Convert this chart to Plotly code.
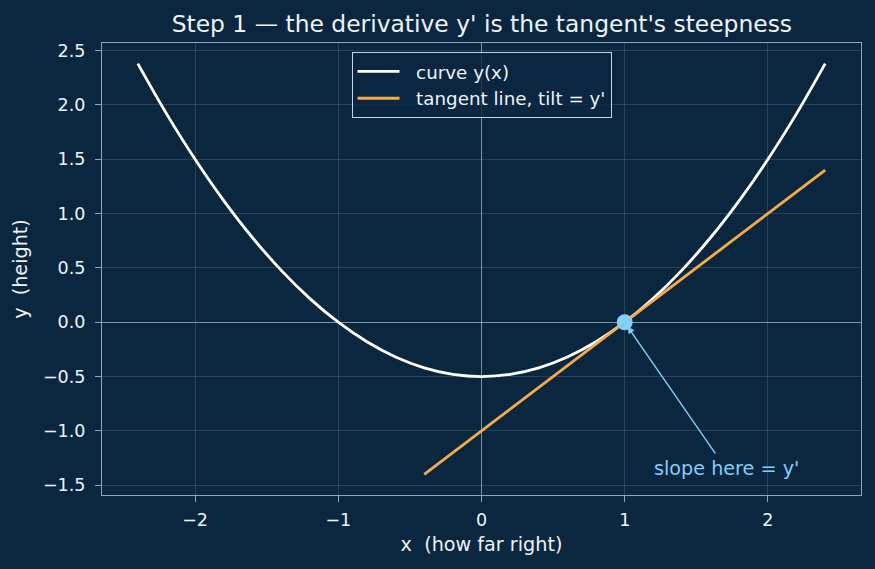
import plotly.graph_objects as go

# Curve y(x), values
curve_x = [-2.4, -2.2, -2.0, -1.8, -1.6, -1.4, -1.2, -1.0, -0.8, -0.6, -0.4, -0.2, 0.0,
           0.2, 0.4, 0.6, 0.8, 1.0, 1.2, 1.4, 1.6, 1.8, 2.0, 2.2, 2.4]
curve_y = [2.38, 1.92, 1.5, 1.12, 0.78, 0.48, 0.22, 0.0, -0.18, -0.32, -0.42, -0.48, -0.5,
           -0.48, -0.42, -0.32, -0.18, 0.0, 0.22, 0.48, 0.78, 1.12, 1.5, 1.92, 2.38]

# Tangent line at the touch point
tangent_x = [-0.4, 2.4]
tangent_y = [-1.4, 1.4]

point_x = [1.0]
point_y = [0.0]

x_ticks = [-2, -1, 0, 1, 2]
y_ticks = [-1.5, -1.0, -0.5, 0.0, 0.5, 1.0, 1.5, 2.0, 2.5]

BG = "#0b2740"
TXT = "#eef3f8"
SPINE = "#8ea6bd"
FONT = "DejaVu Sans"
NB = "\u00a0"

fig = go.Figure()
fig.add_trace(go.Scatter(x=curve_x, y=curve_y, mode="lines", name=NB + NB + "curve y(x)",
                         line=dict(color="#ffffff", width=2.8, shape="spline")))
fig.add_trace(go.Scatter(x=tangent_x, y=tangent_y, mode="lines",
                         name=NB + NB + "tangent line, tilt = y'",
                         line=dict(color="#f5ac48", width=2.8)))
fig.add_trace(go.Scatter(x=point_x, y=point_y, mode="markers", showlegend=False,
                         marker=dict(color="#86cdf7", size=16)))

fig.add_annotation(x=1.02, y=-0.04, ax=1.64, ay=-1.22, xref="x", yref="y", axref="x", ayref="y",
                   text="", showarrow=True, arrowhead=2, arrowsize=1, arrowwidth=1.4,
                   arrowcolor="#86cdf7")
fig.add_annotation(x=1.71, y=-1.35, xref="x", yref="y", text="slope here = y'",
                   showarrow=False, font=dict(family=FONT, size=19.2, color="#86cdf7"))

axis_common = dict(showline=True, linecolor=SPINE, linewidth=1.2, mirror=True,
                   ticks="outside", ticklen=6, tickcolor=SPINE, tickwidth=1.2,
                   gridcolor="rgba(255,255,255,0.13)", gridwidth=1,
                   zeroline=True, zerolinecolor="rgba(200,220,235,0.6)", zerolinewidth=1.2,
                   tickfont=dict(family=FONT, size=17.5, color=TXT),
                   title_font=dict(family=FONT, size=19.2, color=TXT))

fig.update_xaxes(range=[-2.65, 2.65], tickvals=x_ticks,
                 ticktext=[("\u2212" + str(-v)) if v < 0 else str(v) for v in x_ticks],
                 ticklabelstandoff=3,
                 title_text="x" + NB + NB + "(how far right)", title_standoff=8, **axis_common)
fig.update_yaxes(range=[-1.59, 2.57], tickvals=y_ticks,
                 ticktext=[("\u2212" + f"{-v:.1f}") if v < 0 else f"{v:.1f}" for v in y_ticks],
                 ticklabelstandoff=6,
                 title_text="y" + NB + NB + "(height)", title_standoff=10, **axis_common)

fig.update_layout(
    width=875, height=569,
    margin=dict(l=102, r=14, t=43, b=74),
    paper_bgcolor=BG, plot_bgcolor=BG,
    font=dict(family=FONT, color=TXT),
    title=dict(text="Step 1 \u2014 the derivative y' is the tangent's steepness",
               x=0.5507, xanchor="center", y=0.958, yanchor="middle",
               font=dict(family=FONT, size=23.4, color=TXT)),
    legend=dict(x=0.5, xanchor="center", y=0.98, yanchor="top",
                bgcolor="rgba(11,39,64,0.8)", bordercolor="#c8d6e4", borderwidth=1,
                itemwidth=42, tracegroupgap=2,
                font=dict(family=FONT, size=18.3, color=TXT)),
    showlegend=True,
)

fig.write_html("out.html")
